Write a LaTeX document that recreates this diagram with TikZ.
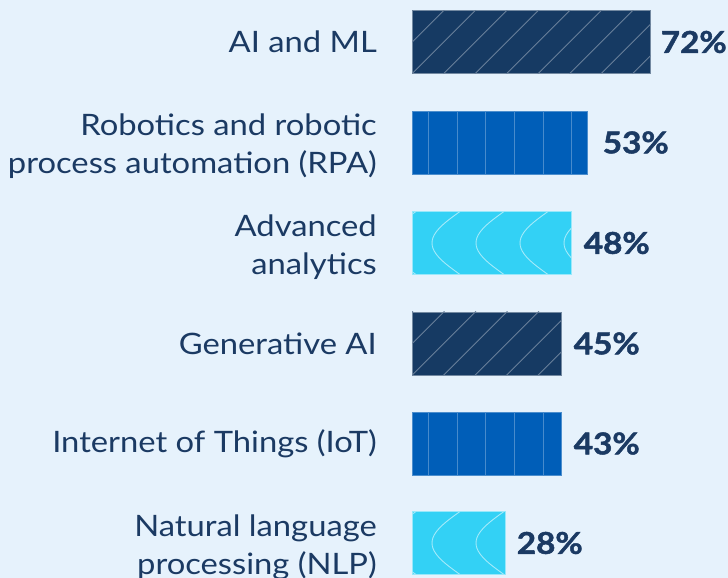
\documentclass[tikz,border=0pt]{standalone}
\usepackage{fontspec}
\setmainfont{Lato}[FakeStretch=1.11, BoldFeatures={FakeBold=1.6}]
\usetikzlibrary{positioning}
\definecolor{pagebg}{HTML}{E6F2FC}
\definecolor{navy}{HTML}{163A63}
\definecolor{royal}{HTML}{005EB8}
\definecolor{skyblue}{HTML}{33D1F5}
\definecolor{ink}{HTML}{1B3A63}
\tikzset{%
  % Specifications for style of bars:
            base/.style = {rectangle, inner sep=0pt, minimum height=63pt,
                           anchor=west, line width=0.6pt},
        navybox/.style = {base, fill=navy, draw=navy!60!white},
        bluebox/.style = {base, fill=royal, draw=royal!70!white},
        cyanbox/.style = {base, fill=skyblue, draw=skyblue!50!white},
      hatchline/.style = {line width=0.8pt, draw=navy!65!white},
     stripeline/.style = {line width=0.9pt, draw=royal!72!white},
       waveline/.style = {line width=0.9pt, draw=skyblue!45!white},
  % texts
       namebox/.style = {font=\fontsize{29.5}{38}\selectfont, text=ink,
                           align=right, inner sep=0pt},
      twolines/.style = {yshift=-4pt},
        pctbox/.style = {font=\fontsize{30}{30}\selectfont\bfseries, text=ink,
                           inner sep=0pt},
}
\newcommand{\hatchbar}[1]{%
  \begin{scope}
    \clip (#1.south west) rectangle (#1.north east);
    \foreach \k in {-2,...,8}
      \draw[hatchline] ([xshift=\k*31.5pt]#1.south west) -- ++(64,64);
  \end{scope}}
\newcommand{\stripebar}[1]{%
  \begin{scope}
    \clip (#1.south west) rectangle (#1.north east);
    \foreach \k in {0,...,6}
      \draw[stripeline] ([xshift=16.3pt+\k*28.7pt]#1.south west)
                     -- ([xshift=16.3pt+\k*28.7pt]#1.north west);
  \end{scope}}
\newcommand{\wavebar}[1]{%
  \begin{scope}
    \clip (#1.south west) rectangle (#1.north east);
    \foreach \m in {-24,20,...,200}
      \draw[waveline, shift={(#1.west)}] plot[domain=-1:1, samples=25, variable=\s]
        ({\m+28*(1-cos(90*\s))}, {31.5*\s});
  \end{scope}}

\begin{document}
\begin{tikzpicture}[x=1pt, y=1pt]
  \path[use as bounding box, fill=pagebg] (0,0) rectangle (728,-578);

  % Specification of bars (position, length)
  \node (aiml)      [navybox, minimum width=238pt] at (412,-42)    {};
  \node (rpa)       [bluebox, minimum width=175pt] at (412,-142.5) {};
  \node (analytics) [cyanbox, minimum width=159pt] at (412,-243)   {};
  \node (genai)     [navybox, minimum width=149pt] at (412,-343.5) {};
  \node (iot)       [bluebox, minimum width=149pt] at (412,-443.5) {};
  \node (nlp)       [cyanbox, minimum width=93pt]  at (412,-543)   {};

  \hatchbar{aiml}
  \stripebar{rpa}
  \wavebar{analytics}
  \hatchbar{genai}
  \stripebar{iot}
  \wavebar{nlp}

  % names on the left
  \node (aimlname)      [namebox, left=35pt of aiml]      {AI and ML};
  \node (rpaname)       [namebox, twolines, left=35pt of rpa]       {Robotics and robotic\\process automation (RPA)};
  \node (analyticsname) [namebox, twolines, left=35pt of analytics] {Advanced\\analytics};
  \node (genainame)     [namebox, left=35pt of genai]     {Generative AI};
  \node (iotname)       [namebox, left=35pt of iot]       {Internet of Things (IoT)};
  \node (nlpname)       [namebox, twolines, left=35pt of nlp]       {Natural language\\processing (NLP)};

  % shares on the right
  \node (aimlpct)      [pctbox, right=10pt of aiml]      {72\%};
  \node (rpapct)       [pctbox, right=15pt of rpa]       {53\%};
  \node (analyticspct) [pctbox, right=12pt of analytics] {48\%};
  \node (genaipct)     [pctbox, right=12pt of genai]     {45\%};
  \node (iotpct)       [pctbox, right=12pt of iot]       {43\%};
  \node (nlppct)       [pctbox, right=11pt of nlp]       {28\%};
\end{tikzpicture}
\end{document}
